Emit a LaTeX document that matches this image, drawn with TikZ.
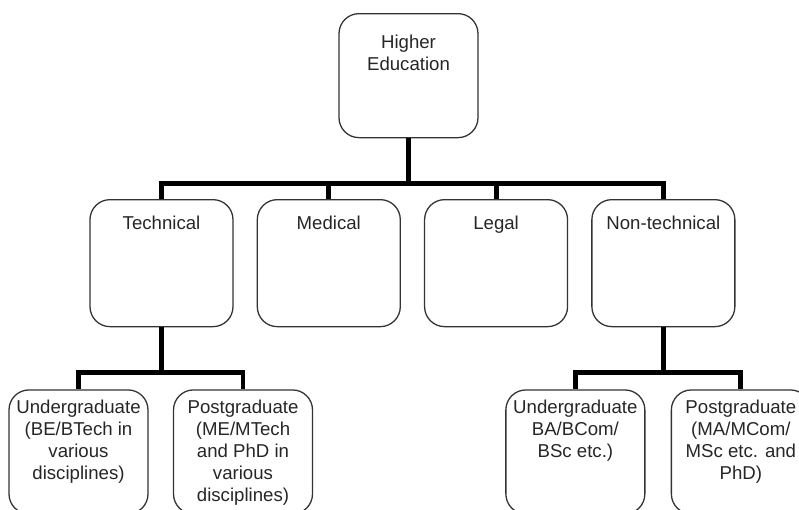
\documentclass[tikz,border=0pt]{standalone}
\usepackage{fontspec}
\setmainfont{Liberation Sans}
\usepackage{xcolor}
\usetikzlibrary{positioning}

\begin{document}
\begin{tikzpicture}[node distance=0.69cm, font=\fontsize{15.9}{18.8}\selectfont]
\tikzstyle{box}=[draw=black!80, line width=1.1pt, rounded corners=0.6cm, align=center, text=black!85, inner xsep=2pt, inner ysep=0pt, anchor=north]
\tikzstyle{topbox}=[box, minimum width=4.17cm, text height=1.71cm, text depth=2.01cm]
\tikzstyle{fieldbox}=[box, minimum width=4.29cm, text height=0.9cm, text depth=2.91cm]
\tikzstyle{degreebox}=[box, minimum width=4.17cm]
\tikzstyle{link}=[line width=4.2pt]
\useasboundingbox (0,0) rectangle (23.97,-15.27);

\node[topbox] (higher) at (12.255,-0.39) {Higher\\Education};
\node[fieldbox] (tech) at (4.845,-5.97) {Technical};
\node[fieldbox, right=of tech] (med) {Medical};
\node[fieldbox, right=of med] (legal) {Legal};
\node[fieldbox, right=of legal] (nontech) {Non-technical};

% last baseline sets the text height
\node[degreebox, text height=2.7cm, text depth=1.02cm, below=1.86cm of tech, xshift=-2.49cm] (techug) {Undergraduate\\(BE/BTech in\\various\\disciplines)};
\node[degreebox, text height=3.36cm, text depth=0.36cm, below=1.86cm of tech, xshift=2.445cm] (techpg) {Postgraduate\\(ME/MTech\\and PhD in\\various\\disciplines)};
\node[degreebox, text height=2.04cm, text depth=1.68cm, below=1.86cm of nontech, xshift=-2.64cm] (nontechug) {Undergraduate\\BA/BCom/\\BSc etc.)};
\node[degreebox, text height=2.7cm, text depth=1.02cm, below=1.86cm of nontech, xshift=2.325cm] (nontechpg) {Postgraduate\\(MA/MCom/\\MSc etc. and\\PhD)};

\draw[link] (higher.south) -- ++(0,-1.35) -| (tech.north);
\draw[link] (higher.south) -- ++(0,-1.35) -| (med.north);
\draw[link] (higher.south) -- ++(0,-1.35) -| (legal.north);
\draw[link] (higher.south) -- ++(0,-1.35) -| (nontech.north);
\draw[link] (tech.south) -- ++(0,-1.35) -| (techug.north);
\draw[link] (tech.south) -- ++(0,-1.35) -| (techpg.north);
\draw[link] (nontech.south) -- ++(0,-1.35) -| (nontechug.north);
\draw[link] (nontech.south) -- ++(0,-1.35) -| (nontechpg.north);
\end{tikzpicture}
\end{document}
